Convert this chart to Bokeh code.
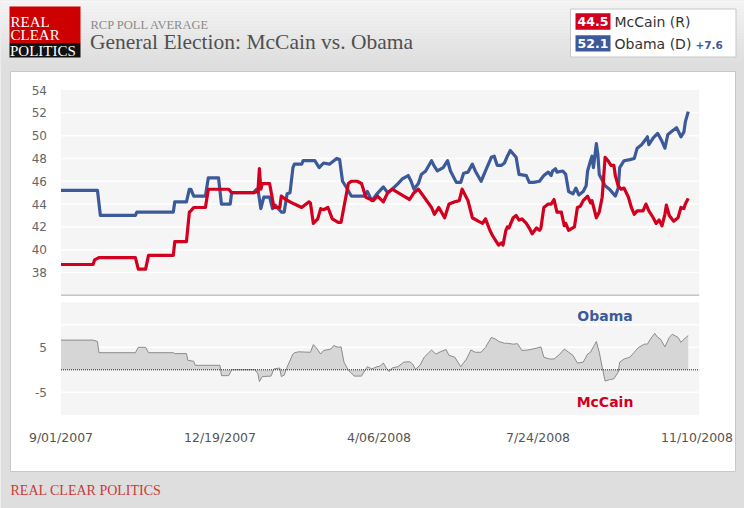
import numpy as np
import pandas as pd
from bokeh.plotting import figure
from bokeh.models import Range1d
from bokeh.core.properties import value
from bokeh.embed import file_html
from bokeh.resources import INLINE

# ---------------- data ----------------
obama_dates = [
    "2007-09-01", "2007-09-26", "2007-09-28", "2007-10-22", "2007-10-23", "2007-11-17", "2007-11-18",
    "2007-11-26", "2007-11-28", "2007-11-29", "2007-12-01", "2007-12-09", "2007-12-11", "2007-12-18",
    "2007-12-20", "2007-12-26", "2007-12-27", "2008-01-11", "2008-01-13", "2008-01-14", "2008-01-16",
    "2008-01-18", "2008-01-22", "2008-01-24", "2008-01-26", "2008-01-30", "2008-02-01", "2008-02-03",
    "2008-02-05", "2008-02-07", "2008-02-08", "2008-02-13", "2008-02-14", "2008-02-22", "2008-02-25",
    "2008-02-28", "2008-03-03", "2008-03-08", "2008-03-10", "2008-03-12", "2008-03-14", "2008-03-18",
    "2008-03-27", "2008-03-29", "2008-04-01", "2008-04-04", "2008-04-09", "2008-04-12", "2008-04-15",
    "2008-04-19", "2008-04-22", "2008-04-26", "2008-04-28", "2008-04-30", "2008-05-03", "2008-05-05",
    "2008-05-08", "2008-05-12", "2008-05-14", "2008-05-16", "2008-05-20", "2008-05-23", "2008-05-25",
    "2008-05-29", "2008-06-01", "2008-06-03", "2008-06-06", "2008-06-09", "2008-06-11", "2008-06-15",
    "2008-06-18", "2008-06-22", "2008-06-24", "2008-06-26", "2008-06-29", "2008-07-01", "2008-07-03",
    "2008-07-05", "2008-07-09", "2008-07-11", "2008-07-16", "2008-07-18", "2008-07-21", "2008-07-25",
    "2008-07-28", "2008-07-31", "2008-08-02", "2008-08-03", "2008-08-05", "2008-08-06", "2008-08-10",
    "2008-08-12", "2008-08-14", "2008-08-17", "2008-08-19", "2008-08-21", "2008-08-24", "2008-08-26",
    "2008-08-27", "2008-08-29", "2008-08-30", "2008-08-31", "2008-09-02", "2008-09-03", "2008-09-04",
    "2008-09-08", "2008-09-11", "2008-09-13", "2008-09-15", "2008-09-17", "2008-09-18", "2008-09-21",
    "2008-09-25", "2008-09-28", "2008-09-30", "2008-10-03", "2008-10-06", "2008-10-07", "2008-10-08",
    "2008-10-11", "2008-10-14", "2008-10-17", "2008-10-19", "2008-10-21", "2008-10-24", "2008-10-27",
    "2008-10-30", "2008-11-01", "2008-11-02", "2008-11-04",
]
obama_vals = [
    45.2, 45.2, 43.0, 43.0, 43.3, 43.3, 44.2,
    44.2, 45.3, 45.3, 44.7, 44.7, 46.3, 46.3,
    44.0, 44.0, 45.0, 45.0, 45.3, 45.3, 43.6,
    44.6, 44.6, 43.6, 43.9, 43.3, 43.3, 44.9,
    45.0, 47.2, 47.5, 47.5, 47.8, 47.8, 47.2,
    47.6, 47.5, 48.0, 47.9, 46.0, 45.6, 44.7,
    44.7, 45.1, 44.3, 44.8, 45.5, 45.0, 45.3,
    45.8, 46.2, 46.5, 46.0, 45.3, 45.8, 46.6,
    46.9, 47.8, 47.3, 46.9, 47.2, 47.8, 46.9,
    45.9, 45.9, 46.7, 46.8, 47.5, 46.9, 46.0,
    46.9, 48.1, 48.2, 47.4, 47.4, 47.6, 48.2,
    48.7, 48.1, 46.6, 46.5, 45.9, 45.9, 46.0,
    46.5, 46.8, 46.5, 46.9, 47.1, 46.8, 46.9,
    46.6, 45.1, 44.9, 45.4, 44.8, 45.1, 45.6,
    46.9, 47.8, 48.2, 47.2, 49.3, 48.4, 46.6,
    45.6, 45.3, 45.0, 44.7, 45.4, 47.2, 47.8,
    47.9, 48.0, 48.9, 49.2, 49.7, 49.9, 49.2,
    49.8, 50.2, 49.5, 48.9, 50.1, 50.4, 50.7,
    49.9, 50.3, 51.2, 52.1,
]

mccain_dates = [
    "2007-09-01", "2007-09-23", "2007-09-24", "2007-09-27", "2007-10-22", "2007-10-24", "2007-10-29",
    "2007-10-31", "2007-11-17", "2007-11-18", "2007-11-26", "2007-11-28", "2007-11-29", "2007-12-01",
    "2007-12-09", "2007-12-11", "2007-12-25", "2007-12-27", "2008-01-11", "2008-01-14", "2008-01-15",
    "2008-01-16", "2008-01-17", "2008-01-22", "2008-01-25", "2008-01-29", "2008-01-30", "2008-02-02",
    "2008-02-08", "2008-02-13", "2008-02-18", "2008-02-19", "2008-02-21", "2008-02-24", "2008-02-26",
    "2008-02-28", "2008-03-02", "2008-03-05", "2008-03-09", "2008-03-11", "2008-03-16", "2008-03-18",
    "2008-03-22", "2008-03-25", "2008-03-28", "2008-04-02", "2008-04-05", "2008-04-09", "2008-04-12",
    "2008-04-15", "2008-04-19", "2008-04-23", "2008-04-27", "2008-04-30", "2008-05-03", "2008-05-07",
    "2008-05-12", "2008-05-14", "2008-05-17", "2008-05-21", "2008-05-24", "2008-05-28", "2008-05-31",
    "2008-06-02", "2008-06-06", "2008-06-09", "2008-06-13", "2008-06-16", "2008-06-18", "2008-06-21",
    "2008-06-23", "2008-06-25", "2008-06-27", "2008-06-29", "2008-06-30", "2008-07-02", "2008-07-03",
    "2008-07-04", "2008-07-07", "2008-07-09", "2008-07-11", "2008-07-13", "2008-07-16", "2008-07-18",
    "2008-07-20", "2008-07-23", "2008-07-25", "2008-07-26", "2008-07-28", "2008-07-31", "2008-08-02",
    "2008-08-04", "2008-08-06", "2008-08-09", "2008-08-11", "2008-08-12", "2008-08-14", "2008-08-18",
    "2008-08-20", "2008-08-22", "2008-08-24", "2008-08-27", "2008-08-29", "2008-08-30", "2008-09-02",
    "2008-09-04", "2008-09-06", "2008-09-08", "2008-09-10", "2008-09-12", "2008-09-14", "2008-09-15",
    "2008-09-17", "2008-09-19", "2008-09-21", "2008-09-24", "2008-09-26", "2008-09-28", "2008-09-30",
    "2008-10-04", "2008-10-06", "2008-10-08", "2008-10-11", "2008-10-13", "2008-10-15", "2008-10-17",
    "2008-10-19", "2008-10-20", "2008-10-22", "2008-10-25", "2008-10-28", "2008-10-30", "2008-11-01",
    "2008-11-02", "2008-11-04",
]
mccain_vals = [
    38.7, 38.7, 39.1, 39.3, 39.3, 38.3, 38.3,
    39.5, 39.5, 40.7, 40.7, 43.3, 43.4, 43.7,
    43.7, 45.3, 45.3, 45.0, 45.0, 45.1, 47.1,
    45.3, 45.8, 45.8, 43.7, 43.7, 44.7, 44.4,
    44.0, 43.7, 44.2, 44.1, 42.3, 42.7, 43.6,
    43.5, 43.7, 42.7, 42.4, 42.4, 45.8, 46.0,
    46.0, 45.8, 44.6, 44.3, 44.7, 44.2, 45.0,
    45.3, 45.0, 44.7, 44.4, 45.0, 45.3, 44.6,
    43.7, 43.1, 43.7, 42.8, 44.0, 44.2, 44.3,
    45.3, 44.3, 42.8, 42.5, 42.3, 42.7, 41.7,
    41.2, 40.8, 40.4, 40.6, 40.4, 41.7, 42.0,
    41.9, 42.8, 43.0, 42.6, 42.7, 42.3, 41.9,
    41.4, 41.9, 41.7, 41.9, 43.7, 44.0, 44.0,
    44.4, 43.3, 43.3, 42.1, 42.3, 41.7, 42.0,
    43.7, 43.8, 44.3, 44.7, 44.1, 44.3, 42.8,
    43.3, 44.6, 48.1, 47.8, 47.4, 47.4, 46.5,
    45.6, 45.3, 45.4, 44.6, 43.7, 43.1, 43.4,
    43.4, 44.0, 43.4, 42.8, 42.3, 42.6, 42.1,
    43.1, 43.9, 43.0, 42.5, 42.8, 43.7, 43.6,
    44.0, 44.5,
]

spread_dates = [
    "2007-09-01", "2007-09-23", "2007-09-26", "2007-09-27", "2007-10-22", "2007-10-24", "2007-10-29",
    "2007-10-31", "2007-11-17", "2007-11-18", "2007-11-26", "2007-11-27", "2007-12-01", "2007-12-02",
    "2007-12-19", "2007-12-20", "2007-12-25", "2007-12-27", "2008-01-12", "2008-01-14", "2008-01-15",
    "2008-01-17", "2008-01-23", "2008-01-25", "2008-01-29", "2008-01-30", "2008-02-01", "2008-02-03",
    "2008-02-07", "2008-02-08", "2008-02-11", "2008-02-19", "2008-02-21", "2008-02-23", "2008-02-26",
    "2008-02-28", "2008-03-04", "2008-03-06", "2008-03-09", "2008-03-11", "2008-03-13", "2008-03-16",
    "2008-03-18", "2008-03-20", "2008-03-25", "2008-03-29", "2008-04-01", "2008-04-04", "2008-04-07",
    "2008-04-09", "2008-04-11", "2008-04-13", "2008-04-15", "2008-04-19", "2008-04-23", "2008-04-27",
    "2008-04-29", "2008-05-01", "2008-05-04", "2008-05-07", "2008-05-12", "2008-05-15", "2008-05-18",
    "2008-05-22", "2008-05-24", "2008-05-28", "2008-06-01", "2008-06-05", "2008-06-08", "2008-06-11",
    "2008-06-15", "2008-06-18", "2008-06-22", "2008-06-25", "2008-06-27", "2008-07-01", "2008-07-03",
    "2008-07-07", "2008-07-10", "2008-07-13", "2008-07-17", "2008-07-20", "2008-07-24", "2008-07-26",
    "2008-07-28", "2008-08-01", "2008-08-04", "2008-08-08", "2008-08-11", "2008-08-14", "2008-08-17",
    "2008-08-20", "2008-08-24", "2008-08-27", "2008-08-29", "2008-09-01", "2008-09-02", "2008-09-04",
    "2008-09-06", "2008-09-08", "2008-09-11", "2008-09-14", "2008-09-17", "2008-09-18", "2008-09-21",
    "2008-09-25", "2008-09-28", "2008-10-01", "2008-10-05", "2008-10-07", "2008-10-09", "2008-10-12",
    "2008-10-14", "2008-10-16", "2008-10-19", "2008-10-22", "2008-10-24", "2008-10-28", "2008-10-30",
    "2008-11-01", "2008-11-04",
]
spread_vals = [
    6.6, 6.6, 6.3, 3.8, 3.8, 5.0, 5.0,
    3.8, 3.8, 3.6, 3.6, 2.1, 1.9, 1.0,
    1.0, -1.3, -1.3, 0.0, 0.0, -0.9, -2.6,
    -1.5, -1.4, 0.2, 0.4, -1.5, -1.2, 0.6,
    3.5, 3.8, 4.0, 3.9, 5.6, 4.9, 3.5,
    4.3, 4.6, 5.4, 5.0, 5.1, 1.7, -0.1,
    -0.7, -1.4, -1.4, 0.7, 0.2, 0.6, 0.9,
    1.5, 0.4, -0.4, 0.4, 0.7, 1.7, 1.8,
    1.3, 0.1, 1.0, 2.8, 4.4, 3.5, 4.0,
    4.5, 3.2, 2.8, 0.7, 2.4, 4.4, 3.9,
    3.9, 5.0, 7.2, 6.8, 6.3, 5.9, 5.9,
    5.7, 5.8, 4.3, 4.4, 4.6, 4.9, 5.1,
    2.8, 2.4, 2.4, 3.5, 4.6, 3.9, 3.2,
    1.5, 1.7, 3.5, 3.9, 5.7, 6.3, 3.9,
    0.6, -2.5, -2.2, -2.0, -0.5, 1.7, 2.4,
    2.8, 3.9, 5.0, 5.7, 5.7, 6.8, 8.1,
    7.2, 6.8, 5.1, 7.2, 7.9, 7.2, 6.1,
    6.8, 7.6,
]

main_ticks = [38, 40, 42, 44, 46, 48, 50, 52, 54]
main_grid = [38, 40, 42, 44, 46, 48, 50, 52]
spread_ticks = [5, -5]
spread_grid = [10, 5, -5]
date_ticks = ["2007-09-01", "2007-12-19", "2008-04-06", "2008-07-24", "2008-11-10"]
date_tick_labels = ["9/01/2007", "12/19/2007", "4/06/2008", "7/24/2008", "11/10/2008"]
main_lo, main_hi = 36, 54
spread_lo, spread_hi = -10, 15

# ---------------- style ----------------
BLUE = "#3c5a9a"
RED = "#d2001e"
PAGE = "#dedede"
PLOTBG = "#f5f5f5"
SANS = value("DejaVu Sans")
SERIF = value("Liberation Serif")

W, H = 744, 508
OX, OY = 0, 0  # layout coords are window pixels

p = figure(width=W, height=H, output_backend="svg", toolbar_location=None,
           x_range=Range1d(OX, OX + W), y_range=Range1d(OY + H, OY),
           x_axis_type=None, y_axis_type=None, min_border=0, title=None)
p.outline_line_color = None
p.background_fill_color = PAGE
p.border_fill_color = PAGE

# scales for data: dates / main values / spread values
PX_L, PX_R = 60.5, 696.5          # x of first / last date tick
PY_TOP, PY_38 = 89.5, 272.0       # y of 54 and 38
PY_ZERO, SPREAD_PPU = 369.3, 4.5
d0 = pd.Timestamp(date_ticks[0]).value / 1e6
d1 = pd.Timestamp(date_ticks[-1]).value / 1e6
mpp = (d1 - d0) / (PX_R - PX_L)
ppu = (PY_38 - PY_TOP) / (54 - 38)
p.extra_x_ranges = {"date": Range1d(d0 - (PX_L - OX) * mpp, d0 + (OX + W - PX_L) * mpp)}
p.extra_y_ranges = {
    "main": Range1d(54 - (OY + H - PY_TOP) / ppu, 54 + (PY_TOP - OY) / ppu),
    "spread": Range1d(-(OY + H - PY_ZERO) / SPREAD_PPU, (PY_ZERO - OY) / SPREAD_PPU),
}
DAY = 86400000.0
x_left, x_right = d0, d1 + 1.5 * DAY

# ---------------- page decoration ----------------
n_band = 22
for i in range(n_band):
    c = int(245 - (245 - 222) * i / (n_band - 1))
    p.quad(left=[0], right=[744], top=[i * 3], bottom=[i * 3 + 3.2],
           fill_color=f"#{c:02x}{c:02x}{c:02x}", line_color=None)

# white panel
p.quad(left=[10], right=[735], top=[71], bottom=[471], fill_color="white",
       line_color="#c8c8c8", line_width=1)

# logo
p.quad(left=[9], right=[80], top=[6], bottom=[42.5], fill_color="#cc0000", line_color=None)
p.quad(left=[9], right=[80], top=[42.5], bottom=[57], fill_color="#111111", line_color=None)
p.text(x=[10, 10, 9.5], y=[21.5, 34, 50], text=["REAL", "CLEAR", "POLITICS"],
       text_font=SERIF, text_font_size="15px", text_color="white",
       text_baseline="middle", text_align="left")

# header
p.text(x=[90], y=[24.5], text=["RCP POLL AVERAGE"], text_font=SERIF, text_font_size="12.5px",
       text_color="#8a8a8a", text_baseline="middle")
p.text(x=[89.5], y=[41.5], text=["General Election: McCain vs. Obama"], text_font=SERIF,
       text_font_size="21.5px", text_color="#505050", text_baseline="middle")

# legend box
p.quad(left=[570], right=[735.5], top=[8.5], bottom=[56.5], fill_color="white",
       line_color="#c8c8c8", line_width=1)
p.quad(left=[575, 575], right=[610, 610], top=[12.7, 34.7], bottom=[29.3, 51],
       fill_color=[RED, BLUE], line_color=None)
p.text(x=[592.5, 592.5], y=[21.3, 43], text=[f"{mccain_vals[-1]:.1f}", f"{obama_vals[-1]:.1f}"],
       text_font=SANS, text_font_size="12.5px", text_font_style="bold", text_color="white",
       text_align="center", text_baseline="middle")
p.text(x=[614, 614], y=[21.3, 43], text=["McCain (R)", "Obama (D)"],
       text_font=SANS, text_font_size="14px", text_color="#333333", text_baseline="middle")
lead = obama_vals[-1] - mccain_vals[-1]
p.text(x=[695], y=[44.5], text=[f"+{lead:.1f}"], text_font=SANS, text_font_size="10.5px",
       text_font_style="bold", text_color=BLUE, text_baseline="middle")

# footer
p.text(x=[10], y=[490], text=["REAL CLEAR POLITICS"], text_font=SERIF, text_font_size="14px",
       text_color="#c93a3a", text_baseline="middle")

# ---------------- main chart ----------------
p.quad(left=[x_left], right=[x_right], bottom=[main_lo], top=[main_hi], fill_color=PLOTBG,
       line_color=None, x_range_name="date", y_range_name="main")
p.segment(x0=[x_left] * len(main_grid), x1=[x_right] * len(main_grid), y0=main_grid, y1=main_grid,
          line_color="white", line_width=1.5, x_range_name="date", y_range_name="main")
p.segment(x0=[x_left], x1=[x_right], y0=[main_lo], y1=[main_lo], line_color="#c4c4c4",
          line_width=1.5, x_range_name="date", y_range_name="main")
p.text(x=[d0] * len(main_ticks), y=main_ticks, text=[str(t) for t in main_ticks],
       x_offset=-14, text_font=SANS, text_font_size="12px", text_color="#666666",
       text_align="right", text_baseline="middle", x_range_name="date", y_range_name="main")

# ---------------- spread chart ----------------
p.quad(left=[x_left], right=[x_right], bottom=[spread_lo], top=[spread_hi], fill_color=PLOTBG,
       line_color=None, x_range_name="date", y_range_name="spread")
p.segment(x0=[x_left] * len(spread_grid), x1=[x_right] * len(spread_grid), y0=spread_grid,
          y1=spread_grid, line_color="white", line_width=1.5, x_range_name="date", y_range_name="spread")
sx = pd.to_datetime(spread_dates)
p.varea(x=sx, y1=0, y2=spread_vals, fill_color="#d6d6d6", x_range_name="date", y_range_name="spread")
p.line(x=sx, y=spread_vals, line_color="#8c8c8c", line_width=1, x_range_name="date",
       y_range_name="spread")
p.segment(x0=[x_left], x1=[x_right], y0=[0], y1=[0], line_color="#222222", line_width=1,
          line_dash="1 1", x_range_name="date", y_range_name="spread")
p.text(x=[d0] * len(spread_ticks), y=spread_ticks, text=[str(t) for t in spread_ticks],
       x_offset=-14, text_font=SANS, text_font_size="12px", text_color="#666666",
       text_align="right", text_baseline="middle", x_range_name="date", y_range_name="spread")
p.text(x=[604.5, 604.5], y=[315.5, 401], text=["Obama", "McCain"], text_font=SANS,
       text_font_size="14px", text_font_style="bold", text_color=[BLUE, RED],
       text_align="center", text_baseline="middle")

# date labels
p.text(x=pd.to_datetime(date_ticks), y=[spread_lo] * len(date_ticks), text=date_tick_labels,
       y_offset=23, text_font=SANS, text_font_size="12.5px", text_color="#555555",
       text_align="center", text_baseline="middle", x_range_name="date", y_range_name="spread")

# ---------------- series ----------------
p.line(x=pd.to_datetime(obama_dates), y=obama_vals, line_color=BLUE, line_width=3.2,
       line_join="round", x_range_name="date", y_range_name="main")
p.line(x=pd.to_datetime(mccain_dates), y=mccain_vals, line_color=RED, line_width=3.2,
       line_join="round", x_range_name="date", y_range_name="main")

open("out.html", "w").write(file_html(p, INLINE))
